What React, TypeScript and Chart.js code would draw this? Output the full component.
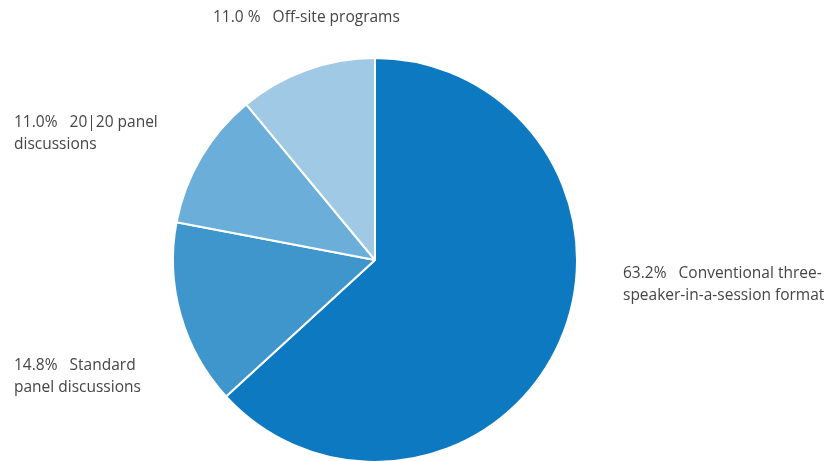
import React, { useEffect, useRef } from "react";
import { Chart, registerables } from "chart.js";

Chart.register(...registerables);

const categories = [
  "Conventional three-speaker-in-a-session format",
  "Standard panel discussions",
  "20|20 panel discussions",
  "Off-site programs",
];
const shares = [63.2, 14.8, 11.0, 11.0];
const percentLabels = ["63.2%", "14.8%", "11.0%", "11.0 %"];
const labelLines = [
  ["Conventional three-", "speaker-in-a-session format"],
  ["Standard", "panel discussions"],
  ["20|20 panel", "discussions"],
  ["Off-site programs"],
];
const colors = ["#0c79c1", "#3f96cd", "#6aaed9", "#a0c9e5"];

// label anchor positions (left, baseline of first line), in canvas px
const labelPos = [
  { x: 623, y: 278 },
  { x: 14, y: 370 },
  { x: 14, y: 127 },
  { x: 213, y: 22 },
];

const labelPlugin = {
  id: "sliceLabels",
  afterDraw(chart: any) {
    const ctx = chart.ctx;
    ctx.save();
    ctx.font = "15.5px 'Open Sans', sans-serif";
    ctx.fillStyle = "#454545";
    ctx.textBaseline = "alphabetic";
    ctx.textAlign = "left";
    labelLines.forEach((lines, i) => {
      const p = labelPos[i];
      lines.forEach((line, j) => {
        let text = line;
        if (j === 0) text = percentLabels[i] + "   " + line;
        ctx.fillText(text, p.x, p.y + j * 22);
      });
    });
    ctx.restore();
  },
};

export default function App() {
  const ref = useRef<HTMLCanvasElement>(null);
  useEffect(() => {
    document.body.style.margin = "0";
    const chart = new Chart(ref.current!, {
      type: "pie",
      data: {
        labels: categories,
        datasets: [
          {
            data: shares,
            backgroundColor: colors,
            borderColor: "#ffffff",
            borderWidth: 2,
          },
        ],
      },
      options: {
        responsive: false,
        animation: false,
        layout: { padding: { left: 172, right: 249, top: 57, bottom: 7 } },
        plugins: {
          legend: { display: false },
          tooltip: { enabled: false },
        },
      },
      plugins: [labelPlugin],
    });
    return () => chart.destroy();
  }, []);
  return (
    <div style={{ width: 827, height: 461, overflow: "hidden", position: "relative" }}>
      <canvas ref={ref} width={827} height={470} style={{ width: 827, height: 470, display: "block" }} />
    </div>
  );
}
